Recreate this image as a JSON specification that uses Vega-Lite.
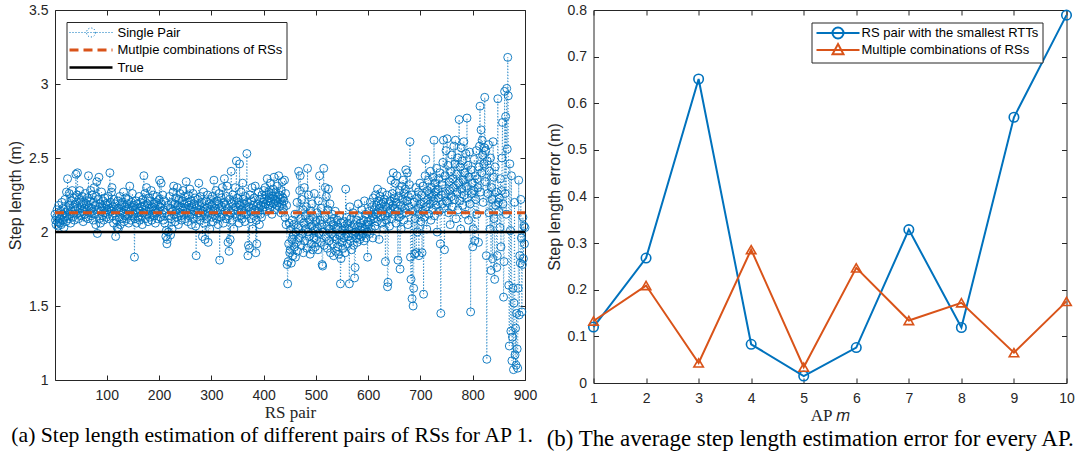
{
"$schema":"https://vega.github.io/schema/vega-lite/v6.json",
"padding":{"left":7,"top":2,"right":2,"bottom":0},
"background":"white",
"bounds":"flush",
"spacing":68.5,
"config":{
 "font":"Liberation Sans",
 "view":{"stroke":"#262626","strokeWidth":1},
 "axis":{"domain":false,"grid":false,"tickSize":-5,"tickColor":"#262626","tickWidth":1,"labelFont":"Liberation Sans","labelFontSize":14,"labelColor":"#262626","titleFont":"Liberation Sans","titleFontSize":16,"titleFontWeight":"normal","titleColor":"#262626","labelFlush":false,"labelOverlap":false},
 "axisX":{"labelPadding":13,"titlePadding":2},
 "axisY":{"labelPadding":12,"titlePadding":5},
 "title":{"font":"Liberation Serif","fontSize":21.7,"fontWeight":"normal","color":"#000000","frame":"bounds"},
 "legend":{"labelFont":"Liberation Sans","labelFontSize":13,"labelColor":"#000000","strokeColor":"#262626","fillColor":"#ffffff","padding":4,"symbolSize":100,"symbolOffset":16,"cornerRadius":0,"labelLimit":400}
},
"resolve":{
 "scale":{"color":"independent","shape":"independent","strokeDash":"independent","strokeWidth":"independent"},
 "legend":{"color":"independent","shape":"independent","strokeDash":"independent","strokeWidth":"independent"}
},
"datasets":{
"single":[
{"pair":1,"len":2.12},{"pair":2,"len":2.08},{"pair":3,"len":2.05},{"pair":4,"len":2.10},{"pair":5,"len":2.15},{"pair":6,"len":2.07},{"pair":7,"len":2.04},{"pair":8,"len":2.18},{"pair":9,"len":2.11},{"pair":10,"len":2.06},
{"pair":11,"len":2.09},{"pair":12,"len":2.14},{"pair":13,"len":2.05},{"pair":14,"len":2.20},{"pair":15,"len":2.12},{"pair":16,"len":2.08},{"pair":17,"len":2.16},{"pair":18,"len":2.03},{"pair":19,"len":2.10},{"pair":20,"len":2.22},
{"pair":21,"len":2.13},{"pair":22,"len":2.07},{"pair":23,"len":2.27},{"pair":24,"len":2.11},{"pair":25,"len":2.36},{"pair":26,"len":2.15},{"pair":27,"len":2.09},{"pair":28,"len":2.26},{"pair":29,"len":2.18},{"pair":30,"len":2.12},
{"pair":31,"len":2.06},{"pair":32,"len":2.21},{"pair":33,"len":2.14},{"pair":34,"len":2.28},{"pair":35,"len":2.10},{"pair":36,"len":2.17},{"pair":37,"len":2.23},{"pair":38,"len":2.08},{"pair":39,"len":2.15},{"pair":40,"len":2.19},
{"pair":41,"len":2.39},{"pair":42,"len":2.12},{"pair":43,"len":2.25},{"pair":44,"len":2.40},{"pair":45,"len":2.16},{"pair":46,"len":2.09},{"pair":47,"len":2.22},{"pair":48,"len":2.28},{"pair":49,"len":2.13},{"pair":50,"len":2.20},
{"pair":51,"len":2.11},{"pair":52,"len":2.18},{"pair":53,"len":2.24},{"pair":54,"len":2.14},{"pair":55,"len":2.07},{"pair":56,"len":2.20},{"pair":57,"len":2.16},{"pair":58,"len":2.12},{"pair":59,"len":2.26},{"pair":60,"len":2.10},
{"pair":61,"len":2.19},{"pair":62,"len":2.15},{"pair":63,"len":2.23},{"pair":64,"len":2.09},{"pair":65,"len":2.38},{"pair":66,"len":2.17},{"pair":67,"len":2.13},{"pair":68,"len":2.21},{"pair":69,"len":2.28},{"pair":70,"len":2.11},
{"pair":71,"len":2.16},{"pair":72,"len":2.25},{"pair":73,"len":2.14},{"pair":74,"len":2.08},{"pair":75,"len":2.20},{"pair":76,"len":2.30},{"pair":77,"len":2.12},{"pair":78,"len":2.18},{"pair":79,"len":2.05},{"pair":80,"len":2.24},
{"pair":81,"len":2.34},{"pair":82,"len":1.99},{"pair":83,"len":2.15},{"pair":84,"len":2.22},{"pair":85,"len":2.37},{"pair":86,"len":2.09},{"pair":87,"len":2.19},{"pair":88,"len":2.06},{"pair":89,"len":2.14},{"pair":90,"len":2.27},
{"pair":91,"len":2.17},{"pair":92,"len":2.11},{"pair":93,"len":2.21},{"pair":94,"len":2.08},{"pair":95,"len":2.16},{"pair":96,"len":2.23},{"pair":97,"len":2.13},{"pair":98,"len":2.19},{"pair":99,"len":2.10},{"pair":100,"len":2.15},
{"pair":101,"len":2.18},{"pair":102,"len":2.12},{"pair":103,"len":2.24},{"pair":104,"len":2.09},{"pair":105,"len":2.16},{"pair":106,"len":2.40},{"pair":107,"len":2.20},{"pair":108,"len":2.14},{"pair":109,"len":2.27},{"pair":110,"len":2.30},
{"pair":111,"len":2.11},{"pair":112,"len":2.17},{"pair":113,"len":2.06},{"pair":114,"len":2.22},{"pair":115,"len":2.13},{"pair":116,"len":2.19},{"pair":117,"len":1.97},{"pair":118,"len":2.08},{"pair":119,"len":2.15},{"pair":120,"len":2.03},
{"pair":121,"len":2.21},{"pair":122,"len":2.02},{"pair":123,"len":2.16},{"pair":124,"len":2.10},{"pair":125,"len":2.24},{"pair":126,"len":2.05},{"pair":127,"len":2.14},{"pair":128,"len":2.18},{"pair":129,"len":2.09},{"pair":130,"len":2.20},
{"pair":131,"len":2.13},{"pair":132,"len":2.27},{"pair":133,"len":2.07},{"pair":134,"len":2.17},{"pair":135,"len":2.11},{"pair":136,"len":2.23},{"pair":137,"len":2.15},{"pair":138,"len":2.09},{"pair":139,"len":2.19},{"pair":140,"len":2.12},
{"pair":141,"len":2.22},{"pair":142,"len":2.06},{"pair":143,"len":2.16},{"pair":144,"len":2.31},{"pair":145,"len":2.14},{"pair":146,"len":2.08},{"pair":147,"len":2.20},{"pair":148,"len":2.11},{"pair":149,"len":2.26},{"pair":150,"len":2.17},
{"pair":151,"len":2.12},{"pair":152,"len":2.18},{"pair":153,"len":1.83},{"pair":154,"len":2.09},{"pair":155,"len":2.15},{"pair":156,"len":2.21},{"pair":157,"len":2.06},{"pair":158,"len":2.13},{"pair":159,"len":2.19},{"pair":160,"len":2.10},
{"pair":161,"len":2.16},{"pair":162,"len":2.24},{"pair":163,"len":2.08},{"pair":164,"len":2.14},{"pair":165,"len":2.20},{"pair":166,"len":2.11},{"pair":167,"len":2.17},{"pair":168,"len":2.05},{"pair":169,"len":2.22},{"pair":170,"len":2.13},
{"pair":171,"len":2.38},{"pair":172,"len":2.18},{"pair":173,"len":2.26},{"pair":174,"len":2.09},{"pair":175,"len":2.15},{"pair":176,"len":2.30},{"pair":177,"len":2.12},{"pair":178,"len":2.19},{"pair":179,"len":2.07},{"pair":180,"len":2.23},
{"pair":181,"len":2.16},{"pair":182,"len":2.10},{"pair":183,"len":2.21},{"pair":184,"len":2.14},{"pair":185,"len":2.28},{"pair":186,"len":2.08},{"pair":187,"len":2.17},{"pair":188,"len":2.12},{"pair":189,"len":2.25},{"pair":190,"len":2.19},
{"pair":191,"len":2.11},{"pair":192,"len":2.15},{"pair":193,"len":2.06},{"pair":194,"len":2.20},{"pair":195,"len":2.13},{"pair":196,"len":2.24},{"pair":197,"len":2.09},{"pair":198,"len":2.18},{"pair":199,"len":2.14},{"pair":200,"len":2.22},
{"pair":201,"len":2.35},{"pair":202,"len":2.17},{"pair":203,"len":2.10},{"pair":204,"len":2.33},{"pair":205,"len":2.19},{"pair":206,"len":2.12},{"pair":207,"len":2.25},{"pair":208,"len":2.08},{"pair":209,"len":2.15},{"pair":210,"len":2.21},
{"pair":211,"len":2.06},{"pair":212,"len":2.13},{"pair":213,"len":1.97},{"pair":214,"len":2.01},{"pair":215,"len":1.92},{"pair":216,"len":1.95},{"pair":217,"len":2.18},{"pair":218,"len":2.00},{"pair":219,"len":2.11},{"pair":220,"len":2.24},
{"pair":221,"len":2.16},{"pair":222,"len":1.98},{"pair":223,"len":2.09},{"pair":224,"len":2.20},{"pair":225,"len":2.02},{"pair":226,"len":2.14},{"pair":227,"len":2.27},{"pair":228,"len":2.31},{"pair":229,"len":2.12},{"pair":230,"len":2.19},
{"pair":231,"len":2.07},{"pair":232,"len":2.23},{"pair":233,"len":2.15},{"pair":234,"len":2.10},{"pair":235,"len":2.30},{"pair":236,"len":2.18},{"pair":237,"len":2.05},{"pair":238,"len":2.22},{"pair":239,"len":2.13},{"pair":240,"len":2.26},
{"pair":241,"len":2.17},{"pair":242,"len":2.11},{"pair":243,"len":2.08},{"pair":244,"len":2.21},{"pair":245,"len":2.15},{"pair":246,"len":2.28},{"pair":247,"len":2.12},{"pair":248,"len":2.19},{"pair":249,"len":2.24},{"pair":250,"len":2.09},
{"pair":251,"len":2.16},{"pair":252,"len":2.34},{"pair":253,"len":2.13},{"pair":254,"len":2.20},{"pair":255,"len":2.07},{"pair":256,"len":2.25},{"pair":257,"len":2.18},{"pair":258,"len":2.11},{"pair":259,"len":2.29},{"pair":260,"len":2.15},
{"pair":261,"len":2.21},{"pair":262,"len":2.05},{"pair":263,"len":2.17},{"pair":264,"len":2.12},{"pair":265,"len":2.26},{"pair":266,"len":2.09},{"pair":267,"len":2.19},{"pair":268,"len":2.14},{"pair":269,"len":2.23},{"pair":270,"len":2.04},
{"pair":271,"len":1.84},{"pair":272,"len":2.16},{"pair":273,"len":2.10},{"pair":274,"len":2.22},{"pair":275,"len":2.13},{"pair":276,"len":2.33},{"pair":277,"len":2.18},{"pair":278,"len":2.08},{"pair":279,"len":2.24},{"pair":280,"len":2.15},
{"pair":281,"len":2.11},{"pair":282,"len":2.20},{"pair":283,"len":1.97},{"pair":284,"len":2.14},{"pair":285,"len":2.27},{"pair":286,"len":2.06},{"pair":287,"len":2.17},{"pair":288,"len":1.95},{"pair":289,"len":2.12},{"pair":290,"len":2.21},
{"pair":291,"len":2.09},{"pair":292,"len":2.16},{"pair":293,"len":2.25},{"pair":294,"len":1.93},{"pair":295,"len":2.13},{"pair":296,"len":2.19},{"pair":297,"len":2.02},{"pair":298,"len":2.15},{"pair":299,"len":2.22},{"pair":300,"len":2.10},
{"pair":301,"len":2.18},{"pair":302,"len":2.24},{"pair":303,"len":2.07},{"pair":304,"len":2.14},{"pair":305,"len":2.35},{"pair":306,"len":2.20},{"pair":307,"len":2.11},{"pair":308,"len":2.16},{"pair":309,"len":2.28},{"pair":310,"len":2.09},
{"pair":311,"len":2.21},{"pair":312,"len":2.13},{"pair":313,"len":2.05},{"pair":314,"len":2.19},{"pair":315,"len":2.26},{"pair":316,"len":1.81},{"pair":317,"len":2.15},{"pair":318,"len":2.10},{"pair":319,"len":2.23},{"pair":320,"len":2.17},
{"pair":321,"len":2.30},{"pair":322,"len":2.12},{"pair":323,"len":2.06},{"pair":324,"len":2.20},{"pair":325,"len":2.36},{"pair":326,"len":2.14},{"pair":327,"len":2.18},{"pair":328,"len":2.09},{"pair":329,"len":2.24},{"pair":330,"len":2.31},
{"pair":331,"len":2.16},{"pair":332,"len":1.93},{"pair":333,"len":2.11},{"pair":334,"len":1.87},{"pair":335,"len":2.22},{"pair":336,"len":1.95},{"pair":337,"len":2.13},{"pair":338,"len":2.41},{"pair":339,"len":2.19},{"pair":340,"len":2.08},
{"pair":341,"len":2.25},{"pair":342,"len":2.15},{"pair":343,"len":2.02},{"pair":344,"len":2.21},{"pair":345,"len":2.12},{"pair":346,"len":2.30},{"pair":347,"len":2.17},{"pair":348,"len":2.48},{"pair":349,"len":2.10},{"pair":350,"len":2.23},
{"pair":351,"len":2.14},{"pair":352,"len":2.20},{"pair":353,"len":2.06},{"pair":354,"len":2.46},{"pair":355,"len":2.18},{"pair":356,"len":2.11},{"pair":357,"len":2.27},{"pair":358,"len":2.15},{"pair":359,"len":2.09},{"pair":360,"len":2.33},
{"pair":361,"len":2.22},{"pair":362,"len":2.13},{"pair":363,"len":2.19},{"pair":364,"len":2.07},{"pair":365,"len":2.24},{"pair":366,"len":2.16},{"pair":367,"len":2.12},{"pair":368,"len":2.53},{"pair":369,"len":2.20},{"pair":370,"len":1.84},
{"pair":371,"len":1.91},{"pair":372,"len":2.17},{"pair":373,"len":1.89},{"pair":374,"len":2.25},{"pair":375,"len":2.14},{"pair":376,"len":2.09},{"pair":377,"len":2.21},{"pair":378,"len":2.30},{"pair":379,"len":2.02},{"pair":380,"len":2.18},
{"pair":381,"len":2.11},{"pair":382,"len":2.23},{"pair":383,"len":2.15},{"pair":384,"len":2.31},{"pair":385,"len":1.86},{"pair":386,"len":2.08},{"pair":387,"len":1.92},{"pair":388,"len":2.19},{"pair":389,"len":2.13},{"pair":390,"len":2.27},
{"pair":391,"len":2.16},{"pair":392,"len":2.05},{"pair":393,"len":2.22},{"pair":394,"len":2.12},{"pair":395,"len":2.18},{"pair":396,"len":2.10},{"pair":397,"len":2.25},{"pair":398,"len":2.15},{"pair":399,"len":2.20},{"pair":400,"len":2.28},
{"pair":401,"len":2.22},{"pair":402,"len":2.17},{"pair":403,"len":2.30},{"pair":404,"len":2.19},{"pair":405,"len":2.25},{"pair":406,"len":2.14},{"pair":407,"len":2.36},{"pair":408,"len":2.21},{"pair":409,"len":2.18},{"pair":410,"len":2.27},
{"pair":411,"len":2.23},{"pair":412,"len":2.16},{"pair":413,"len":2.33},{"pair":414,"len":2.20},{"pair":415,"len":2.26},{"pair":416,"len":2.12},{"pair":417,"len":2.24},{"pair":418,"len":2.29},{"pair":419,"len":2.19},{"pair":420,"len":2.37},
{"pair":421,"len":2.22},{"pair":422,"len":2.15},{"pair":423,"len":2.27},{"pair":424,"len":2.21},{"pair":425,"len":2.18},{"pair":426,"len":2.31},{"pair":427,"len":2.24},{"pair":428,"len":2.20},{"pair":429,"len":2.38},{"pair":430,"len":2.17},
{"pair":431,"len":2.25},{"pair":432,"len":2.22},{"pair":433,"len":2.13},{"pair":434,"len":2.28},{"pair":435,"len":2.19},{"pair":436,"len":2.34},{"pair":437,"len":2.23},{"pair":438,"len":2.16},{"pair":439,"len":2.21},{"pair":440,"len":2.35},
{"pair":441,"len":2.10},{"pair":442,"len":2.26},{"pair":443,"len":2.05},{"pair":444,"len":2.18},{"pair":445,"len":1.78},{"pair":446,"len":1.65},{"pair":447,"len":1.80},{"pair":448,"len":1.92},{"pair":449,"len":2.06},{"pair":450,"len":1.86},
{"pair":451,"len":1.88},{"pair":452,"len":2.02},{"pair":453,"len":1.79},{"pair":454,"len":1.95},{"pair":455,"len":2.08},{"pair":456,"len":1.84},{"pair":457,"len":1.98},{"pair":458,"len":2.05},{"pair":459,"len":1.90},{"pair":460,"len":2.12},
{"pair":461,"len":1.83},{"pair":462,"len":2.00},{"pair":463,"len":1.93},{"pair":464,"len":2.20},{"pair":465,"len":1.87},{"pair":466,"len":2.03},{"pair":467,"len":2.41},{"pair":468,"len":1.96},{"pair":469,"len":2.28},{"pair":470,"len":2.38},
{"pair":471,"len":2.09},{"pair":472,"len":1.91},{"pair":473,"len":2.22},{"pair":474,"len":1.99},{"pair":475,"len":2.15},{"pair":476,"len":1.86},{"pair":477,"len":2.06},{"pair":478,"len":2.30},{"pair":479,"len":1.94},{"pair":480,"len":2.11},
{"pair":481,"len":2.02},{"pair":482,"len":2.17},{"pair":483,"len":1.89},{"pair":484,"len":2.43},{"pair":485,"len":2.00},{"pair":486,"len":2.25},{"pair":487,"len":1.97},{"pair":488,"len":2.08},{"pair":489,"len":1.85},{"pair":490,"len":2.14},
{"pair":491,"len":1.92},{"pair":492,"len":2.04},{"pair":493,"len":2.19},{"pair":494,"len":1.88},{"pair":495,"len":2.10},{"pair":496,"len":1.96},{"pair":497,"len":2.26},{"pair":498,"len":2.01},{"pair":499,"len":1.90},{"pair":500,"len":2.07},
{"pair":501,"len":1.95},{"pair":502,"len":2.13},{"pair":503,"len":2.03},{"pair":504,"len":1.88},{"pair":505,"len":2.21},{"pair":506,"len":1.99},{"pair":507,"len":2.38},{"pair":508,"len":2.08},{"pair":509,"len":1.93},{"pair":510,"len":2.16},
{"pair":511,"len":2.05},{"pair":512,"len":1.78},{"pair":513,"len":1.77},{"pair":514,"len":2.00},{"pair":515,"len":2.43},{"pair":516,"len":1.91},{"pair":517,"len":2.10},{"pair":518,"len":2.30},{"pair":519,"len":1.97},{"pair":520,"len":2.24},
{"pair":521,"len":2.04},{"pair":522,"len":1.89},{"pair":523,"len":2.15},{"pair":524,"len":2.29},{"pair":525,"len":1.94},{"pair":526,"len":2.02},{"pair":527,"len":2.19},{"pair":528,"len":1.86},{"pair":529,"len":2.07},{"pair":530,"len":1.99},
{"pair":531,"len":2.12},{"pair":532,"len":1.92},{"pair":533,"len":2.05},{"pair":534,"len":1.84},{"pair":535,"len":2.09},{"pair":536,"len":1.97},{"pair":537,"len":2.14},{"pair":538,"len":1.87},{"pair":539,"len":2.02},{"pair":540,"len":1.95},
{"pair":541,"len":2.08},{"pair":542,"len":1.90},{"pair":543,"len":2.03},{"pair":544,"len":1.85},{"pair":545,"len":2.11},{"pair":546,"len":1.98},{"pair":547,"len":1.65},{"pair":548,"len":1.82},{"pair":549,"len":2.06},{"pair":550,"len":1.93},
{"pair":551,"len":2.01},{"pair":552,"len":1.89},{"pair":553,"len":2.07},{"pair":554,"len":1.96},{"pair":555,"len":2.04},{"pair":556,"len":1.86},{"pair":557,"len":2.29},{"pair":558,"len":1.99},{"pair":559,"len":2.10},{"pair":560,"len":1.92},
{"pair":561,"len":2.06},{"pair":562,"len":1.97},{"pair":563,"len":2.02},{"pair":564,"len":1.65},{"pair":565,"len":2.17},{"pair":566,"len":1.94},{"pair":567,"len":2.09},{"pair":568,"len":1.88},{"pair":569,"len":2.03},{"pair":570,"len":1.99},
{"pair":571,"len":2.13},{"pair":572,"len":1.91},{"pair":573,"len":2.05},{"pair":574,"len":1.69},{"pair":575,"len":1.76},{"pair":576,"len":2.00},{"pair":577,"len":1.96},{"pair":578,"len":2.08},{"pair":579,"len":1.93},{"pair":580,"len":2.04},
{"pair":581,"len":2.19},{"pair":582,"len":1.98},{"pair":583,"len":2.11},{"pair":584,"len":1.95},{"pair":585,"len":2.06},{"pair":586,"len":2.01},{"pair":587,"len":1.97},{"pair":588,"len":2.15},{"pair":589,"len":2.03},{"pair":590,"len":1.99},
{"pair":591,"len":2.08},{"pair":592,"len":1.94},{"pair":593,"len":2.21},{"pair":594,"len":2.02},{"pair":595,"len":2.12},{"pair":596,"len":1.96},{"pair":597,"len":2.05},{"pair":598,"len":2.00},{"pair":599,"len":1.83},{"pair":600,"len":2.07},
{"pair":601,"len":2.05},{"pair":602,"len":2.14},{"pair":603,"len":1.99},{"pair":604,"len":2.20},{"pair":605,"len":2.08},{"pair":606,"len":2.02},{"pair":607,"len":2.17},{"pair":608,"len":2.11},{"pair":609,"len":1.96},{"pair":610,"len":2.23},
{"pair":611,"len":2.09},{"pair":612,"len":2.15},{"pair":613,"len":2.04},{"pair":614,"len":2.25},{"pair":615,"len":2.12},{"pair":616,"len":2.18},{"pair":617,"len":2.07},{"pair":618,"len":2.29},{"pair":619,"len":2.13},{"pair":620,"len":2.21},
{"pair":621,"len":1.95},{"pair":622,"len":2.16},{"pair":623,"len":2.24},{"pair":624,"len":2.10},{"pair":625,"len":2.19},{"pair":626,"len":2.06},{"pair":627,"len":2.27},{"pair":628,"len":2.14},{"pair":629,"len":2.20},{"pair":630,"len":2.02},
{"pair":631,"len":2.22},{"pair":632,"len":2.11},{"pair":633,"len":1.80},{"pair":634,"len":2.17},{"pair":635,"len":2.08},{"pair":636,"len":2.25},{"pair":637,"len":1.63},{"pair":638,"len":1.66},{"pair":639,"len":2.13},{"pair":640,"len":2.19},
{"pair":641,"len":2.04},{"pair":642,"len":2.21},{"pair":643,"len":2.15},{"pair":644,"len":2.35},{"pair":645,"len":2.09},{"pair":646,"len":2.26},{"pair":647,"len":2.18},{"pair":648,"len":2.40},{"pair":649,"len":2.12},{"pair":650,"len":2.23},
{"pair":651,"len":2.16},{"pair":652,"len":2.33},{"pair":653,"len":2.06},{"pair":654,"len":2.20},{"pair":655,"len":2.38},{"pair":656,"len":2.14},{"pair":657,"len":1.81},{"pair":658,"len":2.24},{"pair":659,"len":2.10},{"pair":660,"len":2.28},
{"pair":661,"len":1.75},{"pair":662,"len":2.18},{"pair":663,"len":2.02},{"pair":664,"len":2.31},{"pair":665,"len":2.12},{"pair":666,"len":2.22},{"pair":667,"len":2.35},{"pair":668,"len":2.08},{"pair":669,"len":2.26},{"pair":670,"len":2.16},
{"pair":671,"len":2.29},{"pair":672,"len":2.42},{"pair":673,"len":2.13},{"pair":674,"len":2.21},{"pair":675,"len":2.40},{"pair":676,"len":2.05},{"pair":677,"len":2.24},{"pair":678,"len":2.17},{"pair":679,"len":2.32},{"pair":680,"len":2.61},
{"pair":681,"len":1.83},{"pair":682,"len":1.68},{"pair":683,"len":2.25},{"pair":684,"len":1.55},{"pair":685,"len":2.14},{"pair":686,"len":1.50},{"pair":687,"len":1.62},{"pair":688,"len":2.20},{"pair":689,"len":1.85},{"pair":690,"len":2.09},
{"pair":691,"len":2.30},{"pair":692,"len":1.86},{"pair":693,"len":2.23},{"pair":694,"len":2.00},{"pair":695,"len":2.16},{"pair":696,"len":2.27},{"pair":697,"len":1.84},{"pair":698,"len":2.12},{"pair":699,"len":2.33},{"pair":700,"len":2.19},
{"pair":701,"len":2.07},{"pair":702,"len":2.25},{"pair":703,"len":1.86},{"pair":704,"len":2.14},{"pair":705,"len":2.31},{"pair":706,"len":1.58},{"pair":707,"len":2.20},{"pair":708,"len":2.10},{"pair":709,"len":2.38},{"pair":710,"len":2.49},
{"pair":711,"len":2.17},{"pair":712,"len":2.02},{"pair":713,"len":2.28},{"pair":714,"len":2.22},{"pair":715,"len":2.35},{"pair":716,"len":2.12},{"pair":717,"len":2.26},{"pair":718,"len":2.19},{"pair":719,"len":2.41},{"pair":720,"len":2.08},
{"pair":721,"len":2.30},{"pair":722,"len":2.24},{"pair":723,"len":2.15},{"pair":724,"len":2.37},{"pair":725,"len":2.21},{"pair":726,"len":2.62},{"pair":727,"len":2.11},{"pair":728,"len":2.33},{"pair":729,"len":2.27},{"pair":730,"len":2.18},
{"pair":731,"len":2.43},{"pair":732,"len":2.00},{"pair":733,"len":2.29},{"pair":734,"len":2.23},{"pair":735,"len":2.36},{"pair":736,"len":2.14},{"pair":737,"len":2.40},{"pair":738,"len":1.92},{"pair":739,"len":1.45},{"pair":740,"len":2.25},
{"pair":741,"len":2.32},{"pair":742,"len":2.19},{"pair":743,"len":2.47},{"pair":744,"len":2.62},{"pair":745,"len":2.16},{"pair":746,"len":1.88},{"pair":747,"len":2.38},{"pair":748,"len":2.26},{"pair":749,"len":2.55},{"pair":750,"len":2.21},
{"pair":751,"len":2.63},{"pair":752,"len":2.20},{"pair":753,"len":2.45},{"pair":754,"len":2.13},{"pair":755,"len":2.34},{"pair":756,"len":2.28},{"pair":757,"len":2.05},{"pair":758,"len":2.41},{"pair":759,"len":2.24},{"pair":760,"len":2.52},
{"pair":761,"len":2.17},{"pair":762,"len":2.36},{"pair":763,"len":2.30},{"pair":764,"len":2.58},{"pair":765,"len":2.22},{"pair":766,"len":2.46},{"pair":767,"len":2.62},{"pair":768,"len":2.09},{"pair":769,"len":2.39},{"pair":770,"len":2.27},
{"pair":771,"len":2.50},{"pair":772,"len":2.15},{"pair":773,"len":2.33},{"pair":774,"len":2.76},{"pair":775,"len":2.21},{"pair":776,"len":2.44},{"pair":777,"len":2.02},{"pair":778,"len":2.57},{"pair":779,"len":2.29},{"pair":780,"len":2.48},
{"pair":781,"len":2.18},{"pair":782,"len":2.35},{"pair":783,"len":2.61},{"pair":784,"len":2.25},{"pair":785,"len":2.40},{"pair":786,"len":2.12},{"pair":787,"len":2.53},{"pair":788,"len":2.31},{"pair":789,"len":2.77},{"pair":790,"len":2.23},
{"pair":791,"len":2.45},{"pair":792,"len":2.08},{"pair":793,"len":2.37},{"pair":794,"len":2.54},{"pair":795,"len":2.19},{"pair":796,"len":1.46},{"pair":797,"len":2.42},{"pair":798,"len":2.26},{"pair":799,"len":2.33},{"pair":800,"len":1.90},
{"pair":801,"len":2.02},{"pair":802,"len":2.28},{"pair":803,"len":2.49},{"pair":804,"len":1.94},{"pair":805,"len":2.38},{"pair":806,"len":2.22},{"pair":807,"len":2.55},{"pair":808,"len":2.12},{"pair":809,"len":2.36},{"pair":810,"len":2.30},
{"pair":811,"len":1.93},{"pair":812,"len":2.44},{"pair":813,"len":2.58},{"pair":814,"len":2.85},{"pair":815,"len":2.27},{"pair":816,"len":2.69},{"pair":817,"len":2.40},{"pair":818,"len":2.62},{"pair":819,"len":2.52},{"pair":820,"len":2.20},
{"pair":821,"len":2.46},{"pair":822,"len":2.57},{"pair":823,"len":2.91},{"pair":824,"len":2.34},{"pair":825,"len":2.55},{"pair":826,"len":1.84},{"pair":827,"len":1.14},{"pair":828,"len":2.48},{"pair":829,"len":2.26},{"pair":830,"len":2.59},
{"pair":831,"len":2.13},{"pair":832,"len":2.41},{"pair":833,"len":2.02},{"pair":834,"len":2.50},{"pair":835,"len":1.74},{"pair":836,"len":2.30},{"pair":837,"len":2.22},{"pair":838,"len":1.82},{"pair":839,"len":2.61},{"pair":840,"len":2.37},
{"pair":841,"len":2.09},{"pair":842,"len":1.68},{"pair":843,"len":2.44},{"pair":844,"len":2.18},{"pair":845,"len":2.27},{"pair":846,"len":1.76},{"pair":847,"len":1.84},{"pair":848,"len":2.90},{"pair":849,"len":2.20},{"pair":850,"len":2.14},
{"pair":851,"len":2.23},{"pair":852,"len":2.03},{"pair":853,"len":2.36},{"pair":854,"len":1.90},{"pair":855,"len":2.28},{"pair":856,"len":2.50},{"pair":857,"len":2.74},{"pair":858,"len":2.19},{"pair":859,"len":1.56},{"pair":860,"len":1.80},
{"pair":861,"len":2.95},{"pair":862,"len":2.26},{"pair":863,"len":2.78},{"pair":864,"len":2.12},{"pair":865,"len":2.97},{"pair":866,"len":2.56},{"pair":867,"len":3.18},{"pair":868,"len":2.92},{"pair":869,"len":1.64},{"pair":870,"len":1.23},
{"pair":871,"len":2.46},{"pair":872,"len":2.01},{"pair":873,"len":1.33},{"pair":874,"len":2.38},{"pair":875,"len":1.13},{"pair":876,"len":1.29},{"pair":877,"len":1.62},{"pair":878,"len":1.07},{"pair":879,"len":1.52},{"pair":880,"len":2.20},
{"pair":881,"len":1.17},{"pair":882,"len":1.35},{"pair":883,"len":1.10},{"pair":884,"len":1.45},{"pair":885,"len":1.21},{"pair":886,"len":1.08},{"pair":887,"len":1.62},{"pair":888,"len":2.35},{"pair":889,"len":1.44},{"pair":890,"len":1.84},
{"pair":891,"len":1.79},{"pair":892,"len":2.22},{"pair":893,"len":1.96},{"pair":894,"len":1.46},{"pair":895,"len":1.78},{"pair":896,"len":2.10},{"pair":897,"len":1.82},{"pair":898,"len":2.04},{"pair":899,"len":1.92},{"pair":900,"len":2.03}
],
"err":[
{"ap":1,"series":"RS pair with the smallest RTTs","err":0.120},
{"ap":2,"series":"RS pair with the smallest RTTs","err":0.268},
{"ap":3,"series":"RS pair with the smallest RTTs","err":0.652},
{"ap":4,"series":"RS pair with the smallest RTTs","err":0.083},
{"ap":5,"series":"RS pair with the smallest RTTs","err":0.015},
{"ap":6,"series":"RS pair with the smallest RTTs","err":0.076},
{"ap":7,"series":"RS pair with the smallest RTTs","err":0.329},
{"ap":8,"series":"RS pair with the smallest RTTs","err":0.119},
{"ap":9,"series":"RS pair with the smallest RTTs","err":0.570},
{"ap":10,"series":"RS pair with the smallest RTTs","err":0.789},
{"ap":1,"series":"Multiple combinations of RSs","err":0.133},
{"ap":2,"series":"Multiple combinations of RSs","err":0.209},
{"ap":3,"series":"Multiple combinations of RSs","err":0.043},
{"ap":4,"series":"Multiple combinations of RSs","err":0.286},
{"ap":5,"series":"Multiple combinations of RSs","err":0.034},
{"ap":6,"series":"Multiple combinations of RSs","err":0.247},
{"ap":7,"series":"Multiple combinations of RSs","err":0.134},
{"ap":8,"series":"Multiple combinations of RSs","err":0.172},
{"ap":9,"series":"Multiple combinations of RSs","err":0.065},
{"ap":10,"series":"Multiple combinations of RSs","err":0.175}
]
},
"hconcat":[
{
 "width":470,"height":370,
 "title":{"text":"(a) Step length estimation of different pairs of RSs for AP 1.","orient":"bottom","anchor":"middle","frame":"bounds","offset":5},
 "layer":[
  {"data":{"name":"single"},
   "mark":{"type":"line","color":"#0072BD","strokeWidth":0.8,"strokeDash":[1,2]},
   "encoding":{
    "x":{"field":"pair","type":"quantitative","scale":{"domain":[1,900],"nice":false,"zero":false},"axis":{"values":[100,200,300,400,500,600,700,800,900],"title":"RS pair","titleFont":"Liberation Serif","titleFontSize":17}},
    "y":{"field":"len","type":"quantitative","scale":{"domain":[1,3.5],"nice":false,"zero":false},"axis":{"values":[1,1.5,2,2.5,3,3.5],"format":".1~f","title":"Step length (m)"}}
   }},
  {"data":{"name":"single"},
   "mark":{"type":"point","shape":"circle","filled":false,"color":"#0072BD","size":64,"strokeWidth":0.9,"opacity":1},
   "encoding":{
    "x":{"field":"pair","type":"quantitative","axis":{"orient":"top","values":[100,200,300,400,500,600,700,800,900],"labels":false,"title":null}},
    "y":{"field":"len","type":"quantitative","axis":{"orient":"right","values":[1,1.5,2,2.5,3,3.5],"labels":false,"title":null}}
   }},
  {"data":{"values":[
    {"series":"Mutlpie combinations of RSs","pair":1,"len":2.13},
    {"series":"Mutlpie combinations of RSs","pair":900,"len":2.13},
    {"series":"True","pair":1,"len":2.0},
    {"series":"True","pair":900,"len":2.0}
   ]},
   "mark":{"type":"line"},
   "encoding":{
    "x":{"field":"pair","type":"quantitative","axis":null},
    "y":{"field":"len","type":"quantitative","axis":null},
    "color":{"field":"series","type":"nominal","scale":{"domain":["Single Pair","Mutlpie combinations of RSs","True"],"range":["#0072BD","#D95319","#000000"]},
      "legend":{"title":null,"orient":"none","legendX":11.5,"legendY":12,"rowPadding":3.5,"labelOffset":20,"symbolOffset":14,
        "encode":{"symbols":{"update":{"shape":{"signal":"datum.value === 'Single Pair' ? 'M-4.3,0H4.3M0.9,0A0.9,0.9 0 1 1 -0.9,0A0.9,0.9 0 1 1 0.9,0' : 'M-4.3,0H4.3'"},"fill":{"value":"transparent"}}}}}},
    "strokeDash":{"field":"series","type":"nominal","scale":{"domain":["Single Pair","Mutlpie combinations of RSs","True"],"range":[[1,2],[9,5],[1,0]]},"legend":{"title":null}},
    "strokeWidth":{"field":"series","type":"nominal","scale":{"type":"ordinal","domain":["Single Pair","Mutlpie combinations of RSs","True"],"range":[1,3,2.5]},"legend":{"title":null}}
   }}
 ],
 "resolve":{"axis":{"x":"independent","y":"independent"}}
},
{
 "width":473,"height":373,
 "title":{"text":"(b) The average step length estimation error for every AP.","orient":"bottom","anchor":"middle","frame":"bounds","offset":5,"fontSize":22.9},
 "data":{"name":"err"},
 "layer":[
  {"mark":{"type":"line","strokeWidth":2},
   "encoding":{
    "x":{"field":"ap","type":"quantitative","scale":{"domain":[1,10],"nice":false,"zero":false},"axis":{"values":[1,2,3,4,5,6,7,8,9,10],"title":"AP 𝑚","titleFont":"Liberation Serif","titleFontSize":17}},
    "y":{"field":"err","type":"quantitative","scale":{"domain":[0,0.8],"nice":false},"axis":{"values":[0,0.1,0.2,0.3,0.4,0.5,0.6,0.7,0.8],"format":".1~f","title":"Step length error (m)"}},
    "color":{"field":"series","type":"nominal","scale":{"domain":["RS pair with the smallest RTTs","Multiple combinations of RSs"],"range":["#0072BD","#D95319"]},
      "legend":{"title":null,"orient":"none","legendX":218,"legendY":12.5,"rowPadding":-3,"labelOffset":17,"symbolOffset":16,"symbolStrokeWidth":2,
        "encode":{"symbols":{"update":{"shape":{"signal":"datum.value === 'RS pair with the smallest RTTs' ? 'M-4.3,0H4.3M1.1,0A1.1,1.1 0 1 1 -1.1,0A1.1,1.1 0 1 1 1.1,0' : 'M-4.3,0H4.3M0,-1.2L1.1,0.85L-1.1,0.85Z'"},"fill":{"value":"transparent"},"strokeWidth":{"value":2}}}}}}
   }},
  {"transform":[{"filter":"datum.series === 'RS pair with the smallest RTTs'"}],
   "mark":{"type":"point","shape":"circle","filled":false,"color":"#0072BD","size":90,"strokeWidth":1.6,"opacity":1},
   "encoding":{
    "x":{"field":"ap","type":"quantitative","axis":{"orient":"top","values":[1,2,3,4,5,6,7,8,9,10],"labels":false,"title":null}},
    "y":{"field":"err","type":"quantitative","axis":{"orient":"right","values":[0,0.1,0.2,0.3,0.4,0.5,0.6,0.7,0.8],"labels":false,"title":null}}
   }},
  {"transform":[{"filter":"datum.series === 'Multiple combinations of RSs'"}],
   "mark":{"type":"point","shape":"triangle-up","filled":false,"color":"#D95319","size":90,"strokeWidth":1.6,"opacity":1},
   "encoding":{
    "x":{"field":"ap","type":"quantitative","axis":null},
    "y":{"field":"err","type":"quantitative","axis":null}
   }}
 ],
 "resolve":{"axis":{"x":"independent","y":"independent"}}
}
]
}
